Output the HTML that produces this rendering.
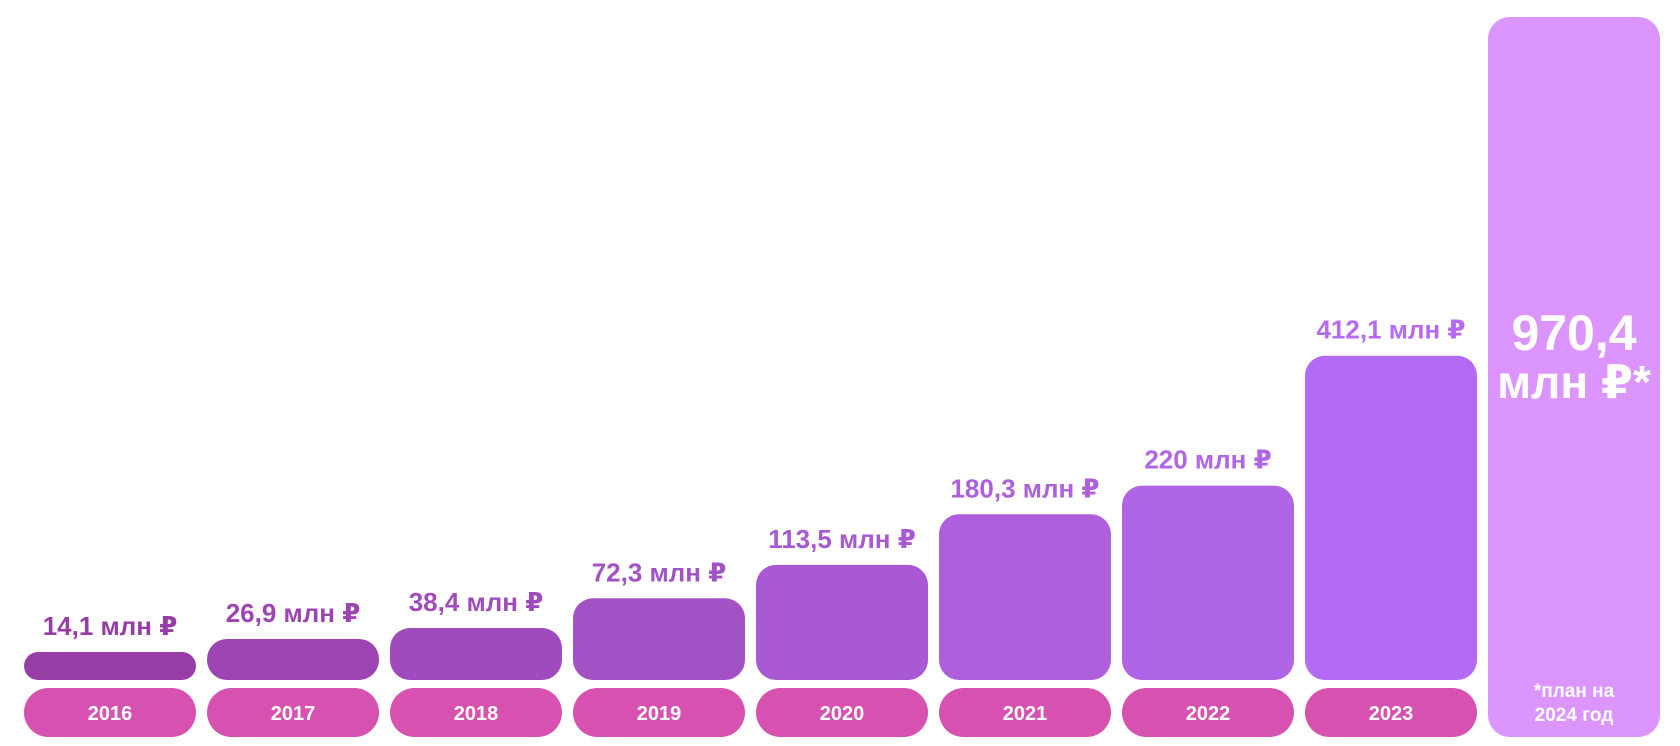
<!DOCTYPE html>
<html><head><meta charset="utf-8">
<style>
html,body{margin:0;padding:0;background:#fff;}
svg{display:block;}
text{font-family:"Liberation Sans","DejaVu Sans",sans-serif;font-weight:bold;}
</style></head>
<body>
<svg id="chart" width="1680" height="746" viewBox="0 0 1680 746"></svg>
<script>
const years = ["2016","2017","2018","2019","2020","2021","2022","2023"];
const values = [14.1, 26.9, 38.4, 72.3, 113.5, 180.3, 220, 412.1];
const valueLabels = ["14,1 млн ₽","26,9 млн ₽","38,4 млн ₽","72,3 млн ₽","113,5 млн ₽","180,3 млн ₽","220 млн ₽","412,1 млн ₽"];
const planValue = 970.4;
const planLabelTop = "970,4";
const planLabelBottom = "млн ₽*";
const planNote = ["*план на","2024 год"];
const barColors = ["#973da6","#9c44b2","#a04bbd","#a352c6","#a858d2","#ad5fdc","#b064e6","#b56af5"];

const NS = "http://www.w3.org/2000/svg";
const svg = document.getElementById("chart");
const baseY = 680, x0 = 24, pitch = 183, bw = 172;
function xPos(i){ return x0 + i*pitch; }
function hScale(v){ return 10.15 + 1.881*Math.pow(v,0.85); }
function mk(tag, attrs){ const e=document.createElementNS(NS,tag); for(const k in attrs) e.setAttribute(k,attrs[k]); svg.appendChild(e); return e; }

years.forEach((y,i)=>{
  const h = hScale(values[i]);
  const x = xPos(i);
  const r = Math.min(20, h/2);
  const bar = mk("rect",{x:x,y:baseY-h,width:bw,height:h,rx:r,ry:r,fill:barColors[i]});
  
  
  const lbl = mk("text",{x:x+bw/2,y:baseY-h-17,"text-anchor":"middle","font-size":"26",fill:barColors[i]});
  lbl.textContent = valueLabels[i];
  
  
  const pill = mk("rect",{x:x,y:688,width:bw,height:49,rx:24.5,ry:24.5,fill:"#d651b0"});
  
  
  const yt = mk("text",{x:x+bw/2,y:720,"text-anchor":"middle","font-size":"20",fill:"#fff"});
  yt.textContent = y;
  
  
});

const px = xPos(8);
const planTop = 17;
const plan = mk("rect",{x:px,y:planTop,width:bw,height:737-planTop,rx:22,ry:22,fill:"#dc95fe"});


const p1 = mk("text",{x:px+bw/2,y:350,"text-anchor":"middle","font-size":"50",fill:"#fff"});
p1.textContent = planLabelTop;


const p2 = mk("text",{x:px+bw/2,y:398,"text-anchor":"middle","font-size":"46",fill:"#fff"});
p2.textContent = planLabelBottom;


planNote.forEach((t,k)=>{
  const n = mk("text",{x:px+bw/2,y:697+k*24,"text-anchor":"middle","font-size":"19",fill:"#fff"});
  n.textContent = t;
  
  
});
</script>
</body></html>
